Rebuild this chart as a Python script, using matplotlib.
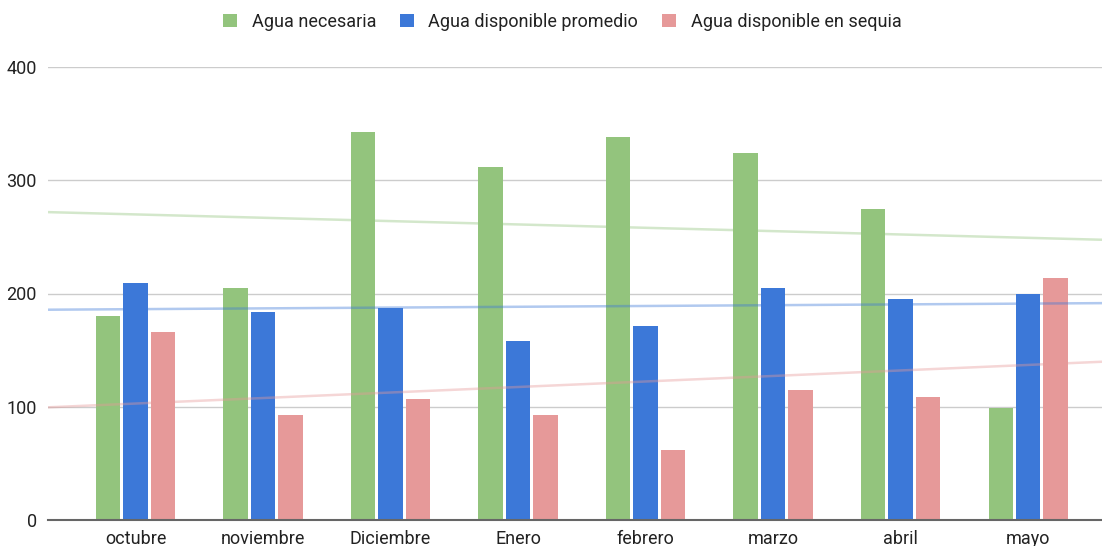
import matplotlib.pyplot as plt
import numpy as np

plt.rcParams['font.family'] = ['Roboto', 'DejaVu Sans']

months = ['octubre', 'noviembre', 'Diciembre', 'Enero', 'febrero', 'marzo', 'abril', 'mayo']
necesaria = [180, 205, 343, 312, 338, 324, 275, 99]
promedio = [209, 184, 187, 158, 171, 205, 195, 200]
sequia = [166, 93, 107, 93, 62, 115, 109, 214]

series = [('Agua necesaria', necesaria, '#93c47d'),
          ('Agua disponible promedio', promedio, '#3c78d8'),
          ('Agua disponible en sequia', sequia, '#e69999')]

fig = plt.figure(figsize=(11.02, 5.46), dpi=100)
ax = fig.add_axes([48 / 1102, 1 - 520 / 546, 1 - 48 / 1102, (520 - 67) / 546])

x = np.arange(len(months))
width = 0.19
step = 0.215
xlo, xhi = -0.686, 7.58

handles = []
for i, (name, vals, col) in enumerate(series):
    b = ax.bar(x + (i - 1) * step, vals, width, color=col, label=name, zorder=2)
    handles.append(b)
    # linear trendline over the whole axis
    k, c = np.polyfit(x, vals, 1)
    xs = np.array([xlo, xhi])
    ax.plot(xs, k * xs + c, color=col, alpha=0.4, lw=1.8, zorder=3, solid_capstyle='butt')

ax.set_xlim(xlo, xhi)
ax.set_ylim(0, 400)
ax.set_yticks([0, 100, 200, 300, 400])
ax.set_xticks(x)
ax.set_xticklabels(months)
ax.yaxis.grid(True, color='#cccccc', lw=1, zorder=0)
ax.set_axisbelow(True)
for s in ['top', 'right', 'left']:
    ax.spines[s].set_visible(False)
ax.spines['bottom'].set_color('#666666')
ax.spines['bottom'].set_linewidth(1.5)
ax.spines['bottom'].set_zorder(4)
ax.tick_params(axis='both', length=0, labelsize=13, labelcolor='#222222')
ax.tick_params(axis='x', pad=7)
ax.tick_params(axis='y', pad=8)

fig.legend(handles=handles, loc='center', bbox_to_anchor=(0.51, 0.96), ncol=3,
           frameon=False, fontsize=13, handlelength=0.8, handleheight=0.8,
           handletextpad=0.8, columnspacing=1.3, labelcolor='#222222')

fig.savefig('out.png', dpi=100)
